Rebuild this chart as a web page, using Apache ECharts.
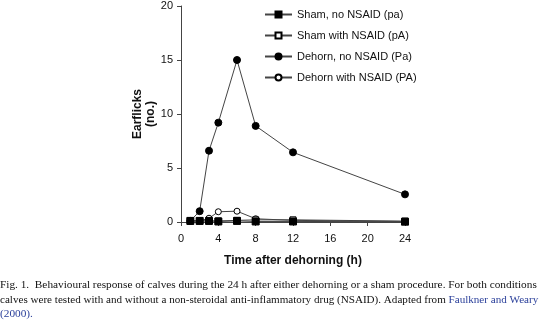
<!DOCTYPE html>
<html><head><meta charset="utf-8">
<script src="https://cdn.jsdelivr.net/npm/echarts@6/dist/echarts.min.js"></script>
<style>html,body{margin:0;padding:0;background:#fff}#c{width:540px;height:321px}</style>
</head><body><div id="c"></div>
<script>
const hours = [1, 2, 3, 4, 6, 8, 12, 24];
const shamNoNSAID = [0.1, 0.1, 0.1, 0.05, 0.1, 0.05, 0.05, 0.03];
const shamWithNSAID = [0.1, 0.1, 0.1, 0.1, 0.15, 0.2, 0.2, 0.08];
const dehornNoNSAID = [0.1, 1.0, 6.6, 9.2, 15.0, 8.9, 6.45, 2.56];
const dehornWithNSAID = [0.1, 0.1, 0.35, 0.95, 1.0, 0.3, 0.15, 0.05];
const seriesNames = ['Sham, no NSAID (pa)', 'Sham with NSAID (pA)', 'Dehorn, no NSAID (Pa)', 'Dehorn with NSAID (PA)'];
const xTicks = [0, 4, 8, 12, 16, 20, 24];
const yTicks = [0, 5, 10, 15, 20];
const captionLines = [
  'Fig. 1.  Behavioural response of calves during the 24 h after either dehorning or a sham procedure. For both conditions',
  'calves were tested with and without a non-steroidal anti-inflammatory drug (NSAID). Adapted from ',
  '(2000).'
];
const captionLink = 'Faulkner and Weary';

const pair = arr => hours.map((h, i) => [h, arr[i]]);
const chart = echarts.init(document.getElementById('c'));
const lineC = '#444';
const mk = (name, data, symbol, filled, size, z) => ({
  name, type: 'line', data: pair(data), symbol, symbolSize: size, z,
  showSymbol: true,
  lineStyle: { color: lineC, width: 1 },
  itemStyle: { color: filled ? '#000' : '#fff', borderColor: '#000', borderWidth: 1 },
  emphasis: { disabled: true }
});
const serif = '"Liberation Serif", serif';
chart.setOption({
  animation: false,
  textStyle: { fontFamily: 'Liberation Sans, Arial, sans-serif' },
  grid: { left: 181, right: 135, top: 6, bottom: 99 },
  legend: {
    orient: 'vertical', left: 264, top: 9, padding: 0, itemWidth: 27, itemHeight: 7.5, itemGap: 10,
    data: seriesNames,
    textStyle: { fontSize: 11, color: '#111' }
  },
  xAxis: {
    type: 'value', min: 0, max: 24, interval: 4, offset: 5,
    name: 'Time after dehorning (h)', nameLocation: 'middle', nameGap: 28,
    nameTextStyle: { fontSize: 12, fontWeight: 'bold', color: '#111' },
    axisLine: { lineStyle: { color: '#444', width: 1 } },
    axisTick: { length: 4, lineStyle: { color: '#444' } },
    axisLabel: { fontSize: 11, color: '#111', margin: 6 },
    splitLine: { show: false }
  },
  yAxis: {
    type: 'value', min: 0, max: 20, interval: 5,
    name: 'Earflicks\n(no.)', nameLocation: 'middle', nameGap: 24, nameRotate: 90, nameMoveOverlap: false,
    nameTextStyle: { fontSize: 12, fontWeight: 'bold', color: '#111', lineHeight: 13 },
    axisLine: { show: true, lineStyle: { color: '#444', width: 1 } },
    axisTick: { show: true, length: 4, lineStyle: { color: '#444' } },
    axisLabel: { fontSize: 11, color: '#111', margin: 8 },
    splitLine: { show: false }
  },
  series: [
    mk(seriesNames[3], dehornWithNSAID, 'circle', false, 6, 2),
    mk(seriesNames[1], shamWithNSAID, 'rect', false, 6, 3),
    mk(seriesNames[2], dehornNoNSAID, 'circle', true, 7, 4),
    mk(seriesNames[0], shamNoNSAID, 'rect', true, 7, 5)
  ],
  graphic: [
    { type: 'text', left: 0, top: 280, style: { text: captionLines[0], font: '11.3px ' + serif, fill: '#111' } },
    { type: 'text', left: 0, top: 295, style: {
      text: captionLines[1] + '{l|' + captionLink + '}',
      font: '11.1px ' + serif, fill: '#111',
      rich: { l: { fill: '#2a3f9a', font: '11.1px ' + serif } } } },
    { type: 'text', left: 0, top: 309, style: { text: captionLines[2], font: '11.3px ' + serif, fill: '#2a3f9a' } }
  ]
});
</script></body></html>
